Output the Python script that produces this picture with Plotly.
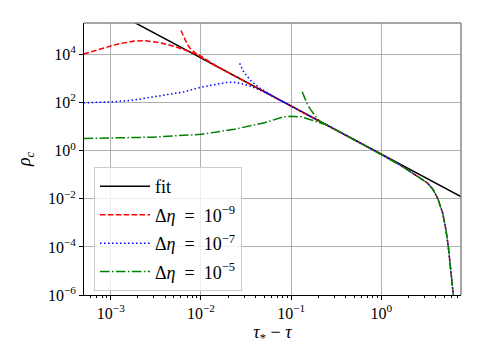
import plotly.graph_objects as go

# ---------------- data ----------------
fit_x = [5e-4, 10.0]
fit_y = [2.88e6, 7.2e-3]

tail_x = [1.0, 1.65, 2.32, 2.75, 3.26, 3.72, 4.21, 4.79, 5.2, 5.52, 5.82, 6.03, 6.22, 6.35]
tail_y = [0.70, 0.24, 0.105, 0.071, 0.0447, 0.025, 0.0105, 2.5e-3, 5.1e-4, 1.05e-4, 2.1e-5, 4.3e-6, 1.4e-6, 6e-7]

red_low_x = [5e-4, 8.4e-4, 1.18e-3, 1.82e-3, 2.45e-3, 3.6e-3, 5.06e-3, 7.1e-3, 9.6e-3, 0.015, 0.02, 0.05, 0.1, 0.2, 0.5]
red_low_y = [1.05e4, 1.78e4, 2.69e4, 3.63e4, 3.72e4, 3.02e4, 2.19e4, 1.41e4, 9.3e3, 3200, 1800, 288, 72, 18, 2.88]
red_up_x = [6.0e-3, 6.41e-3, 6.98e-3, 7.6e-3, 8.28e-3, 9.04e-3, 9.82e-3, 0.013, 0.02]
red_up_y = [1.0e5, 5.37e4, 2.88e4, 1.78e4, 1.29e4, 1.0e4, 7.94e3, 4260, 1800]

blue_low_x = [5e-4, 1e-3, 1.78e-3, 2.78e-3, 4.19e-3, 6.52e-3, 9.8e-3, 0.01945, 0.0224, 0.02735, 0.0353, 0.0456, 0.0589, 0.1, 0.2, 0.5]
blue_low_y = [98, 107, 126, 166, 204, 282, 427, 692, 708, 631, 479, 331, 204, 72, 18, 2.88]
blue_up_x = [0.02685, 0.0297, 0.0353, 0.0437, 0.0541, 0.07, 0.1]
blue_up_y = [4266, 1905, 851, 427, 263, 147, 72]

green_low_x = [5e-4, 1e-3, 2.78e-3, 0.01, 0.0234, 0.0505, 0.0828, 0.1, 0.129, 0.1637, 0.212, 0.251, 0.5]
green_low_y = [3.24, 3.3, 3.63, 4.79, 7.76, 14.5, 25.7, 26.9, 25.7, 19.5, 14.5, 11.7, 2.88]
green_up_x = [0.1324, 0.1413, 0.1514, 0.1637, 0.1778, 0.194, 0.212, 0.230, 0.251]
green_up_y = [282, 141, 83.2, 52.5, 33.1, 21.9, 15.8, 13.5, 11.5]

x_tickvals = [1e-3, 1e-2, 1e-1, 1.0]
x_ticktext = ["10<sup>−3</sup>", "10<sup>−2</sup>", "10<sup>−1</sup>", "10<sup>0</sup>"]
y_tickvals = [1e-6, 1e-4, 1e-2, 1.0, 1e2, 1e4]
y_ticktext = ["10<sup>−6</sup>", "10<sup>−4</sup>", "10<sup>−2</sup>", "10<sup>0</sup>", "10<sup>2</sup>", "10<sup>4</sup>"]

labels = ["fit", "Δ<i>η</i>  =  10<sup>−9</sup>", "Δ<i>η</i>  =  10<sup>−7</sup>", "Δ<i>η</i>  =  10<sup>−5</sup>"]

# ---------------- figure ----------------
def branch(low_x, low_y, up_x, up_y):
    x = low_x + tail_x + [None] + up_x
    y = low_y + tail_y + [None] + up_y
    return x, y

FONT = "Liberation Serif"
fig = go.Figure()
fig.add_trace(go.Scatter(x=fit_x, y=fit_y, mode="lines", name=labels[0], legendgroup="g0",
                         line=dict(color="black", width=1.5)))
series = [
    (red_low_x, red_low_y, red_up_x, red_up_y, "#ff0000", "5.5px,2.4px"),
    (blue_low_x, blue_low_y, blue_up_x, blue_up_y, "#0000ff", "1.5px,2.5px"),
    (green_low_x, green_low_y, green_up_x, green_up_y, "#008000", "9.6px,2.4px,1.5px,2.4px"),
]
for i, (lx, ly, ux, uy, col, dash) in enumerate(series):
    x, y = branch(lx, ly, ux, uy)
    fig.add_trace(go.Scatter(x=x, y=y, mode="lines", name=labels[i + 1],
                             legendgroup="g%d" % (i + 1), connectgaps=False,
                             line=dict(color=col, width=1.5, dash=dash)))

axis_common = dict(
    type="log", showgrid=True, gridcolor="#b0b0b0", gridwidth=1,
    showline=True, linecolor="black", linewidth=1, zeroline=False,
    ticks="outside", ticklen=4, tickcolor="black", tickwidth=1,
    tickfont=dict(family=FONT, size=16, color="black"),
    tickmode="array",
)
fig.update_layout(
    width=484, height=363,
    margin=dict(l=84, r=23, t=23, b=68),
    paper_bgcolor="white", plot_bgcolor="white",
    font=dict(family=FONT, size=16, color="black"),
    xaxis=dict(**axis_common, range=[-3.297, 0.883], tickvals=x_tickvals, ticktext=x_ticktext,
               minor=dict(ticks="outside", ticklen=2, tickcolor="black", dtick="D1", showgrid=False),
               title=dict(text="<i>τ</i><sub>*</sub> − <i>τ</i>", font=dict(family=FONT, size=18), standoff=1)),
    yaxis=dict(**axis_common, range=[-6, 5.31], tickvals=y_tickvals, ticktext=y_ticktext,
               title=dict(text="<i>ρ</i><sub><i>c</i></sub>", font=dict(family=FONT, size=18), standoff=12)),
    legend=dict(x=0.0266, y=0.47, xanchor="left", yanchor="top",
                traceorder="grouped", tracegroupgap=2, itemwidth=50,
                bgcolor="rgba(255,255,255,0.8)", bordercolor="#cccccc", borderwidth=1,
                font=dict(family=FONT, size=18)),
    showlegend=True,
    shapes=[
        dict(type="line", xref="paper", yref="paper", x0=0, x1=1, y0=1, y1=1,
             line=dict(color="#888888", width=1.5)),
        dict(type="line", xref="paper", yref="paper", x0=1, x1=1, y0=0, y1=1,
             line=dict(color="#888888", width=1.5)),
    ],
)
fig.write_html("out.html", config={"displayModeBar": False},
               post_script="document.body.style.margin='0';document.body.style.overflow='hidden';")
